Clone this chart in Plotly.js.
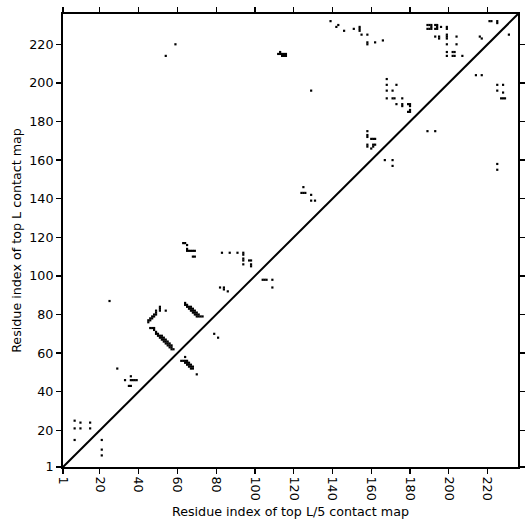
<!DOCTYPE html>
<html>
<head>
<meta charset="utf-8">
<script src="https://cdn.plot.ly/plotly-3.0.1.min.js"></script>
<style>html,body{margin:0;padding:0;background:#fff;}#chart{width:531px;height:531px;}</style>
</head>
<body>
<div id="chart"></div>
<script>
// Contacts above the diagonal (top L contact map)
const topL_x = [7,7,7,10,10,15,15,
  25,
  29,33,36,36,37,38,39,35,36,
  45,45,46,46,47,47,48,48,49,49,49,
  51,51,51,54,
  46,47,48,48,49,49,50,50,51,51,52,52,52,53,53,53,54,54,54,55,55,55,56,56,56,57,57,57,58,
  64,64,65,65,66,66,67,67,67,68,68,68,69,69,69,70,70,71,70,71,72,73,
  63,64,65,65,65,66,67,68,69,68,69,
  83,87,91,94,94,94,94,97,98,94,98,98,
  82,84,84,86,
  54,59,
  112,113,114,115,116,114,115,116,113,
  125,124,125,126,129,129,131,
  129,
  139,142,143,146,151,
  154,154,154,155,158,158,158,162,166,
  189,190,191,191,189,190,191,
  193,194,194,193,194,
  196,199,199,
  193,195,195,199,199,199,204,
  199,204,
  199,199,202,203,202,203,207,
  216,217,
  221,222,225,225,
  168,168,173,168,171,168,171,172,176,
  173,176,176,179,180,180,180,180,179,
  158,158,158,160,161,162,158,158,161,162,161,160];
const topL_y = [25,21,15,24,21,24,21,
  87,
  52,46,48,46,46,46,46,43,43,
  76,77,77,78,78,79,79,80,80,81,82,
  84,83,82,82,
  73,73,73,72,71,70,70,69,69,68,69,68,67,68,67,66,67,66,65,66,65,64,65,64,63,64,63,62,62,
  86,85,85,84,84,83,84,83,82,83,82,81,82,81,80,81,80,80,79,79,79,79,
  117,117,116,114,113,113,113,113,113,110,110,
  112,112,112,112,111,109,108,108,108,106,106,105,
  94,94,93,92,
  214,220,
  215,215,215,215,215,214,214,214,216,
  146,143,143,143,142,139,139,
  196,
  232,229,230,227,228,
  229,228,227,225,225,221,220,221,222,
  230,230,230,229,228,228,228,
  230,230,229,228,228,
  229,229,228,
  224,224,223,225,224,223,224,
  220,220,
  216,214,216,216,214,214,214,
  224,223,
  232,232,232,231,
  202,199,199,196,196,192,192,192,192,
  189,189,188,189,189,188,186,185,185,
  175,173,172,171,171,171,168,167,168,168,167,166];

// Contacts below the diagonal (top L/5 contact map)
const topL5_x = [21,21,21,
  70,64,62,63,64,65,64,65,66,65,66,67,66,67,68,67,68,
  79,81,
  104,105,106,109,109,
  167,171,171,
  189,193,
  214,217,
  225,228,225,228,227,228,229,
  225,225,
  231];
const topL5_y = [15,10,7,
  49,58,56,56,56,56,55,55,55,54,54,54,53,53,53,52,52,
  70,68,
  98,98,98,98,94,
  160,160,157,
  175,175,
  204,204,
  199,199,196,195,192,192,192,
  158,155,
  225];

const tickVals = [1,20,40,60,80,100,120,140,160,180,200,220];
const tickText = ["1","20","40","60","80","100","120","140","160","180","200","220"];
const axisRange = [1, 235.7];

const markerStyle = {symbol: 'square', size: 2.2, color: '#000', line: {width: 0}};

const traces = [
  {type: 'scatter', mode: 'markers', x: topL_x, y: topL_y, marker: markerStyle, name: 'top L', hoverinfo: 'x+y'},
  {type: 'scatter', mode: 'markers', x: topL5_x, y: topL5_y, marker: markerStyle, name: 'top L/5', hoverinfo: 'x+y'}
];

const fontSpec = {family: 'DejaVu Sans', size: 12.7, color: '#000'};

const axisCommon = {
  range: axisRange,
  tickmode: 'array',
  tickvals: tickVals,
  ticktext: tickText,
  ticks: 'outside',
  ticklen: 5,
  tickwidth: 1.3,
  tickcolor: '#000',
  showline: true,
  linecolor: '#000',
  linewidth: 2,
  mirror: 'ticks',
  showgrid: false,
  zeroline: false,
  tickfont: fontSpec
};

const layout = {
  width: 531,
  height: 531,
  margin: {l: 63, r: 13, t: 14, b: 64},
  paper_bgcolor: '#fff',
  plot_bgcolor: '#fff',
  showlegend: false,
  font: fontSpec,
  xaxis: Object.assign({}, axisCommon, {
    tickangle: 90,
    title: {text: 'Residue index of top L/5 contact map', font: fontSpec, standoff: 7}
  }),
  yaxis: Object.assign({}, axisCommon, {
    title: {text: 'Residue index of top L contact map', font: fontSpec, standoff: 5}
  }),
  shapes: [
    {type: 'line', xref: 'paper', yref: 'paper', x0: 0, y0: 0, x1: 1, y1: 1, line: {color: '#000', width: 2}}
  ]
};

Plotly.newPlot('chart', traces, layout, {displayModeBar: false, staticPlot: true});
</script>
</body>
</html>
